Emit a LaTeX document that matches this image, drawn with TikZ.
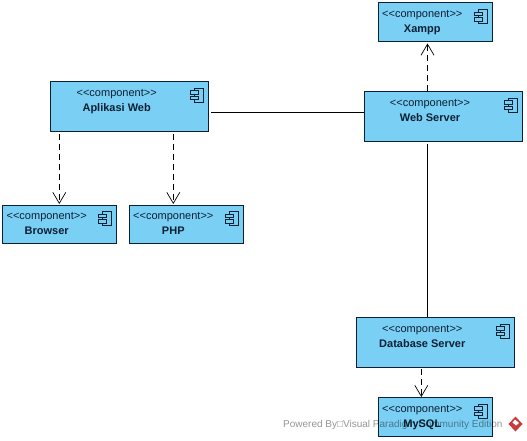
\documentclass[tikz,border=0pt]{standalone}
\usepackage{fontspec}
\setmainfont{Liberation Sans}
\usetikzlibrary{calc,arrows.meta}
\definecolor{compfill}{RGB}{122,207,245}
\definecolor{compline}{RGB}{12,32,52}
\definecolor{markred}{RGB}{200,60,60}
\tikzset{
    compbox/.style={draw=compline,fill=compfill,line width=1pt,inner sep=0pt,outer sep=0pt,anchor=north west},
    comptext/.style={inner sep=0pt,align=center,font=\fontsize{11}{15}\selectfont,text=compline},
    iconpart/.style={draw=compline,fill=compfill,line width=0.8pt},
    dep/.style={draw=black,dashed,dash pattern=on 6pt off 4pt,line width=0.8pt,-{Straight Barb[length=11pt,width=13pt,line width=0.7pt]}},
    assoc/.style={draw=black,line width=0.8pt},
}
\begin{document}
\begin{tikzpicture}[x=1pt,y=-1pt]
    \useasboundingbox (0,0) rectangle (527,441);

    % parameters: name / title / left / top / width / height / text centre
    \foreach \nm/\title/\l/\t/\w/\h/\c in {
        xampp/Xampp/378.5/3/114/38.5/422.3,
        web/Web Server/364.5/91.5/158/50/430,
        aplikasi/Aplikasi Web/50.5/81.5/158/50/116.7,
        browser/Browser/2.5/205/114/38.5/46.7,
        php/PHP/129.5/205/114/38.5/173.3,
        database/Database Server/356.5/317.5/158/50/422.3,
        mysql/MySQL/378.5/397.5/114/38.5/422.3} {%
        \node[compbox,minimum width=\w pt,minimum height=\h pt] (\nm) at (\l,\t) {};%
        \node[comptext,anchor=north] (\nm text) at (\c,\t+7.4) {<{}<component>{}>\\[0pt]\textbf{\title}};%
        % --- component icon in the corner ---
        \draw[iconpart] ($(\nm.north east)+(-14,6.5)$) rectangle ($(\nm.north east)+(-5,20.5)$);%
        \draw[iconpart] ($(\nm.north east)+(-18,9)$) rectangle ($(\nm.north east)+(-10,12.5)$);%
        \draw[iconpart] ($(\nm.north east)+(-18,14.5)$) rectangle ($(\nm.north east)+(-10,18)$);%
    }

    % free ends of the connectors
    \coordinate (xamppfoot) at (427.5,43.5);
    \coordinate (webhead) at (427.5,91);
    \coordinate (webfoot) at (427.5,144);
    \coordinate (dbhead) at (427.5,317);
    \coordinate (dbfoot) at (421.3,369);
    \coordinate (mysqlhead) at (421.3,397);
    \coordinate (apkleft) at (59.3,133.5);
    \coordinate (browserhead) at (59.3,204);
    \coordinate (apkright) at (173.3,133.5);
    \coordinate (phphead) at (173.3,204);
    \coordinate (apkside) at (211,112.5);
    \coordinate (webside) at (364,112.5);

    \draw[dep] (webhead) -- (xamppfoot);
    \draw[dep] (apkleft) -- (browserhead);
    \draw[dep] (apkright) -- (phphead);
    \draw[dep] (dbfoot) -- (mysqlhead);
    \draw[assoc] (apkside) -- (webside);
    \draw[assoc] (webfoot) -- (dbhead);

    % watermark
    \node[inner sep=0pt,anchor=west,font=\fontsize{10}{12}\selectfont,text=black,text opacity=0.42] (powered) at (283,425) {Powered By□Visual Paradigm Community Edition};
    \fill[markred] (515.5,416.5) -- (522.5,424) -- (515.5,431.5) -- (508.5,424) -- cycle;
    \fill[white] (515,419.5) -- (519,423) -- (516,425.5) -- (512.5,422.5) -- cycle;
\end{tikzpicture}
\end{document}
